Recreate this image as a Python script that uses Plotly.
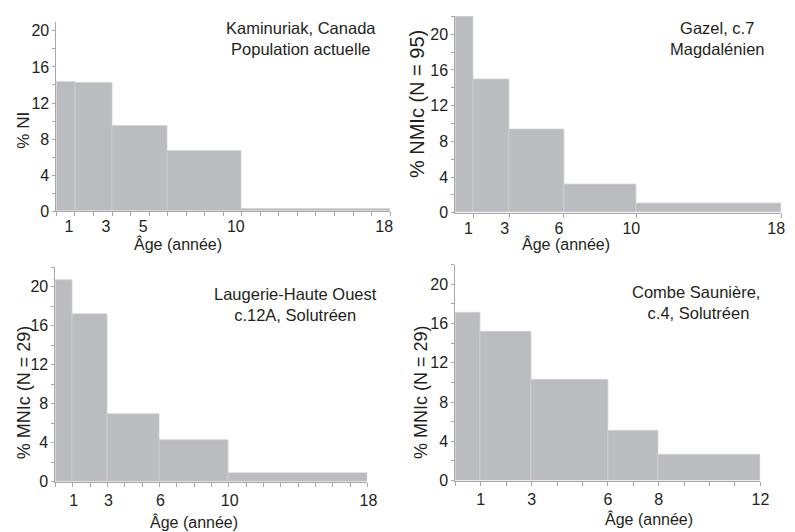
import plotly.graph_objects as go

W, H = 795, 532

# ---- data ----
kam_edges = [0, 1, 3, 6, 10, 18]
kam_values = [14.4, 14.2, 9.5, 6.7, 0.3]
kam_ticks = [1, 3, 5, 10, 18]

gaz_edges = [0, 1, 3, 6, 10, 18]
gaz_values = [22.0, 14.9, 9.3, 3.2, 1.0]
gaz_ticks = [1, 3, 6, 10, 18]

lau_edges = [0, 1, 3, 6, 10, 18]
lau_values = [20.7, 17.2, 6.9, 4.3, 0.9]
lau_ticks = [1, 3, 6, 10, 18]

com_edges = [0, 1, 3, 6, 8, 12]
com_values = [17.1, 15.2, 10.3, 5.1, 2.6]
com_ticks = [1, 3, 6, 8, 12]

y_ticks = [0, 4, 8, 12, 16, 20]

titles = [
    "Kaminuriak, Canada<br>Population actuelle",
    "Gazel, c.7<br>Magdalénien",
    "Laugerie-Haute Ouest<br>c.12A, Solutréen",
    "Combe Saunière,<br> c.4, Solutréen",
]
y_titles = ["% NI", "% NMIc (N = 95)", "% MNIc (N = 29)", "% MNIc (N = 29)"]
x_title = "Âge (année)"

# ---- layout geometry (pixels) ----
panels = [
    dict(edges=kam_edges, vals=kam_values, ticks=kam_ticks, x0=49, x1=387, yb=206.7, yt=14.1, ymax=21,
         xminor=True, shift=-6, standoff=-3, ytsize=17,
         title_xy=(297, 31), ytitle_xy=(16, 124), xtitle_xy=(172, 240)),
    dict(edges=gaz_edges, vals=gaz_values, ticks=gaz_ticks, x0=453, x1=783, yb=208.3, yt=8.5, ymax=22,
         xminor=False, shift=-5, standoff=-3, ytsize=20,
         title_xy=(719, 31), ytitle_xy=(415, 98), xtitle_xy=(565, 240)),
    dict(edges=lau_edges, vals=lau_values, ticks=lau_ticks, x0=48, x1=364, yb=481.7, yt=263.5, ymax=22,
         xminor=True, shift=1, standoff=0, ytsize=18,
         title_xy=(291, 302), ytitle_xy=(17, 391), xtitle_xy=(188, 523)),
    dict(edges=com_edges, vals=com_values, ticks=com_ticks, x0=453, x1=762, yb=480.7, yt=261.1, ymax=22,
         xminor=True, shift=0, standoff=0, ytsize=18,
         title_xy=(697, 300), ytitle_xy=(419, 391), xtitle_xy=(649, 520)),
]

BAR = "#bbbcc0"
AX = "#a8a8a8"
TXT = "#231f20"
FONT = "Liberation Sans, Arial, sans-serif"

fig = go.Figure()
layout = dict(
    width=W, height=H, margin=dict(l=0, r=0, t=0, b=0),
    paper_bgcolor="white", plot_bgcolor="white", showlegend=False,
    font=dict(family=FONT, size=16, color=TXT), bargap=0,
)
annotations = []

for i, p in enumerate(panels):
    n = "" if i == 0 else str(i + 1)
    e = p["edges"]
    centers = [(a + b) / 2 for a, b in zip(e[:-1], e[1:])]
    widths = [b - a for a, b in zip(e[:-1], e[1:])]
    fig.add_trace(go.Bar(
        x=centers, y=p["vals"], width=widths,
        marker=dict(color=BAR, line=dict(color="#d2d2d4", width=0.7)),
        xaxis="x" + n, yaxis="y" + n, hoverinfo="skip",
    ))
    xdom = [p["x0"] / W, p["x1"] / W]
    ydom = [1 - p["yb"] / H, 1 - p["yt"] / H]
    xax = dict(
        domain=xdom, range=[e[0], e[-1]], anchor="y" + n,
        showgrid=False, zeroline=False, showline=True, linecolor=AX, linewidth=1,
        tickmode="array", tickvals=p["ticks"], ticktext=[str(t) for t in p["ticks"]],
        ticks="outside", ticklen=4, tickcolor=AX, tickwidth=1,
        ticklabelshift=p["shift"], ticklabelstandoff=p["standoff"],
        ticklabeloverflow="allow",
        tickfont=dict(size=16, color=TXT, family=FONT), fixedrange=True,
    )
    if p["xminor"]:
        xax["minor"] = dict(tickmode="linear", tick0=0, dtick=1, ticks="outside",
                            ticklen=4, tickcolor=AX, tickwidth=1, showgrid=False)
    yax = dict(
        domain=ydom, range=[0, p["ymax"]], anchor="x" + n,
        showgrid=False, zeroline=False, showline=True, linecolor=AX, linewidth=1,
        tickmode="array", tickvals=y_ticks, ticks="outside", ticklen=3,
        tickcolor=AX, tickwidth=1,
        minor=dict(tickmode="linear", tick0=2, dtick=4, ticks="outside",
                   ticklen=3, tickcolor=AX, tickwidth=1, showgrid=False),
        tickfont=dict(size=16, color=TXT, family=FONT), fixedrange=True,
    )
    layout["xaxis" + n] = xax
    layout["yaxis" + n] = yax

    tx, ty = p["title_xy"]
    annotations.append(dict(text=titles[i], x=tx / W, y=1 - ty / H, xref="paper", yref="paper",
                            xanchor="center", yanchor="middle", showarrow=False, align="center",
                            font=dict(size=16.5, color=TXT, family=FONT)))
    yx, yy = p["ytitle_xy"]
    annotations.append(dict(text=y_titles[i], x=yx / W, y=1 - yy / H, xref="paper", yref="paper",
                            xanchor="center", yanchor="middle", showarrow=False, textangle=-90,
                            font=dict(size=p["ytsize"], color=TXT, family=FONT)))
    xx, xy = p["xtitle_xy"]
    annotations.append(dict(text=x_title, x=xx / W, y=1 - xy / H, xref="paper", yref="paper",
                            xanchor="center", yanchor="middle", showarrow=False,
                            font=dict(size=16, color=TXT, family=FONT)))

layout["annotations"] = annotations
fig.update_layout(**layout)
fig.write_html("out.html")
